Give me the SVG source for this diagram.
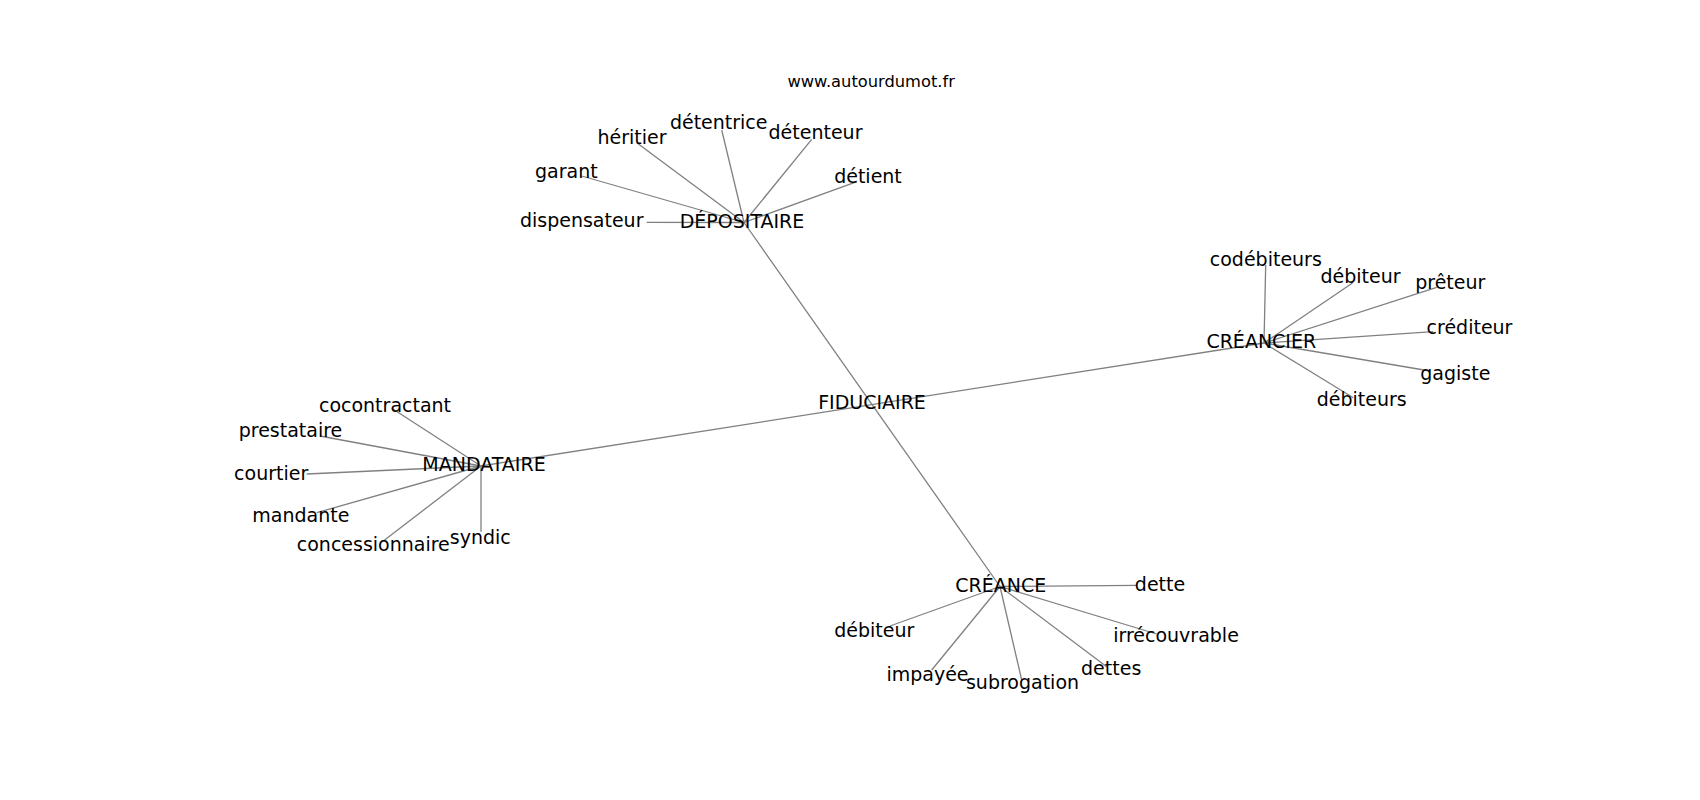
<svg xmlns="http://www.w3.org/2000/svg" width="1700" height="800" viewBox="0 0 1700 800">
<style>
.e{stroke:#808080;stroke-width:1.3;fill:none}
text{font-family:"DejaVu Sans",Verdana,sans-serif;font-size:19px;fill:#000;text-anchor:middle}
.t{font-size:16.3px}
</style>
<rect width="1700" height="800" fill="#fff"/>
<text class="t" x="871.2" y="87.3">www.autourdumot.fr</text>
<g id="connectors">
<line class="e" x1="744" y1="222.5" x2="1000" y2="586.5"/>
<line class="e" x1="481" y1="466" x2="1264" y2="343"/>
<line class="e" x1="744" y1="222.5" x2="636.7" y2="142.7"/>
<line class="e" x1="744" y1="222.5" x2="721.7" y2="130"/>
<line class="e" x1="744" y1="222.5" x2="811.7" y2="139.3"/>
<line class="e" x1="744" y1="222.5" x2="857" y2="181.7"/>
<line class="e" x1="744" y1="222.5" x2="581.7" y2="176"/>
<line class="e" x1="744" y1="222.5" x2="646.7" y2="222.3"/>
<line class="e" x1="1264" y1="343" x2="1265.7" y2="265"/>
<line class="e" x1="1264" y1="343" x2="1352.5" y2="283"/>
<line class="e" x1="1264" y1="343" x2="1436.7" y2="287.3"/>
<line class="e" x1="1264" y1="343" x2="1433.3" y2="331.7"/>
<line class="e" x1="1264" y1="343" x2="1430" y2="371"/>
<line class="e" x1="1264" y1="343" x2="1353.3" y2="397.7"/>
<line class="e" x1="481" y1="466" x2="391.7" y2="408.3"/>
<line class="e" x1="481" y1="466" x2="320" y2="436"/>
<line class="e" x1="481" y1="466" x2="306.7" y2="474"/>
<line class="e" x1="481" y1="466" x2="316.7" y2="512.7"/>
<line class="e" x1="481" y1="466" x2="383.3" y2="541"/>
<line class="e" x1="481" y1="466" x2="481" y2="531.7"/>
<line class="e" x1="1000" y1="586.5" x2="1136.7" y2="585.3"/>
<line class="e" x1="1000" y1="586.5" x2="890" y2="626"/>
<line class="e" x1="1000" y1="586.5" x2="1156.7" y2="634"/>
<line class="e" x1="1000" y1="586.5" x2="931.7" y2="670"/>
<line class="e" x1="1000" y1="586.5" x2="1021.7" y2="680"/>
<line class="e" x1="1000" y1="586.5" x2="1106.7" y2="666.7"/>
</g>
<g id="n-fiduciaire"><text x="872" y="409">FIDUCIAIRE</text></g>
<g id="n-depositaire"><text x="742" y="228">DÉPOSITAIRE</text></g>
<g id="n-creancier"><text x="1261.3" y="347.7">CRÉANCIER</text></g>
<g id="n-mandataire"><text x="484" y="470.7">MANDATAIRE</text></g>
<g id="n-creance"><text x="1000.7" y="592">CRÉANCE</text></g>
<g id="n-heritier"><text x="632" y="144">héritier</text></g>
<g id="n-detentrice"><text x="718.7" y="129.3">détentrice</text></g>
<g id="n-detenteur"><text x="815.5" y="139.3">détenteur</text></g>
<g id="n-detient"><text x="868" y="182.5">détient</text></g>
<g id="n-garant"><text x="566.3" y="178.3">garant</text></g>
<g id="n-dispensateur"><text x="581.7" y="226.7">dispensateur</text></g>
<g id="n-codebiteurs"><text x="1265.8" y="265.7">codébiteurs</text></g>
<g id="n-debiteur1"><text x="1360.5" y="282.7">débiteur</text></g>
<g id="n-preteur"><text x="1450.3" y="289.3">prêteur</text></g>
<g id="n-crediteur"><text x="1469.5" y="334">créditeur</text></g>
<g id="n-gagiste"><text x="1455.3" y="380">gagiste</text></g>
<g id="n-debiteurs"><text x="1361.7" y="405.7">débiteurs</text></g>
<g id="n-cocontractant"><text x="385" y="411.7">cocontractant</text></g>
<g id="n-prestataire"><text x="290.5" y="437.3">prestataire</text></g>
<g id="n-courtier"><text x="271.2" y="480.3">courtier</text></g>
<g id="n-mandante"><text x="300.8" y="521.7">mandante</text></g>
<g id="n-concessionnaire"><text x="373.3" y="550.7">concessionnaire</text></g>
<g id="n-syndic"><text x="480.3" y="544">syndic</text></g>
<g id="n-dette"><text x="1160" y="590.7">dette</text></g>
<g id="n-debiteur2"><text x="874.3" y="636.7">débiteur</text></g>
<g id="n-irrecouvrable"><text x="1176" y="641.7">irrécouvrable</text></g>
<g id="n-impayee"><text x="927.5" y="681">impayée</text></g>
<g id="n-subrogation"><text x="1022.5" y="689.3">subrogation</text></g>
<g id="n-dettes"><text x="1111.2" y="675">dettes</text></g>
</svg>
